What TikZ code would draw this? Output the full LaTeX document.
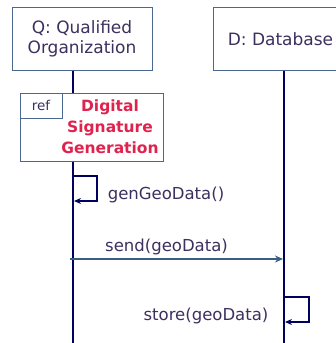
\documentclass[tikz,border=0pt]{standalone}
\usepackage{fontspec}
\setmainfont{DejaVu Sans}
\usetikzlibrary{arrows.meta}
\definecolor{boxedge}{HTML}{4A6890}
\definecolor{lifeblue}{HTML}{00005E}
\definecolor{inkpurple}{HTML}{3C305E}
\definecolor{refred}{HTML}{E0234E}
\definecolor{msgblue}{HTML}{3A5F82}
\begin{document}
\begin{tikzpicture}[x=1pt,y=-1pt,
  objbox/.style={draw=boxedge, line width=1pt, fill=white, inner sep=0pt,
    text=inkpurple, align=center, font=\fontsize{17}{20}\selectfont},
  lifeline/.style={draw=lifeblue, line width=1.6pt},
  selfmsg/.style={draw=lifeblue, line width=1.5pt,
    -{Stealth[length=7pt,width=6pt]}},
  callmsg/.style={draw=msgblue, line width=1.2pt,
    -{Stealth[length=8pt,width=7pt]}},
  msglabel/.style={text=inkpurple, inner sep=0pt,
    font=\fontsize{16.5}{20}\selectfont},
  reftab/.style={draw=boxedge, line width=1pt, inner sep=0pt,
    text=inkpurple, font=\fontsize{13.5}{15}\selectfont}]
\useasboundingbox (0,0) rectangle (336,343);

% lifeline positions
\coordinate (qx) at (73,0);
\coordinate (dx) at (284,0);
\coordinate (qend) at (73,343);
\coordinate (dend) at (284,343);

% object boxes
\node[objbox, minimum width=140pt, minimum height=63pt] (Q) at (82,38.5)
  {Q: Qualified\\Organization};
\node[objbox, minimum width=134pt, minimum height=63pt, anchor=north west]
  (D) at (213,7) {D: Database};

% interaction use: ref frame
\node[draw=boxedge, line width=1pt, fill=white, minimum width=143pt,
  minimum height=68pt, inner sep=0pt] (R) at (91.5,127) {};
\node[reftab, minimum width=42pt, minimum height=25pt, anchor=north west]
  (Rtab) at (R.north west) {ref};
\node[text=refred, align=center, inner sep=0pt,
  font=\fontsize{15.5}{21}\selectfont\bfseries] (Rtitle) at (110,127)
  {Digital\\Signature\\Generation};

% lifelines
\draw[lifeline] (Q.south -| qx) -- (R.north -| qx);
\draw[lifeline] (R.south -| qx) -- (qend);
\draw[lifeline] (D.south -| dx) -- (dend);

% genGeoData(): self call on Q
\coordinate (g1) at (73,176);
\coordinate (g2) at (74,201);
\draw[selfmsg] (g1) -- (97,176) -- (97,201) -- (g2);
\node[msglabel] (gl) at (166,195) {genGeoData()};

% send(geoData): Q to D
\coordinate (s1) at (70,259);
\coordinate (s2) at (283,259);
\draw[callmsg] (s1) -- (s2);
\node[msglabel] (sl) at (166.5,247) {send(geoData)};

% store(geoData): self call on D
\coordinate (t1) at (284,297);
\coordinate (t2) at (285,322);
\draw[selfmsg] (t1) -- (309,297) -- (309,322) -- (t2);
\node[msglabel] (tl) at (206,316) {store(geoData)};
\end{tikzpicture}
\end{document}
